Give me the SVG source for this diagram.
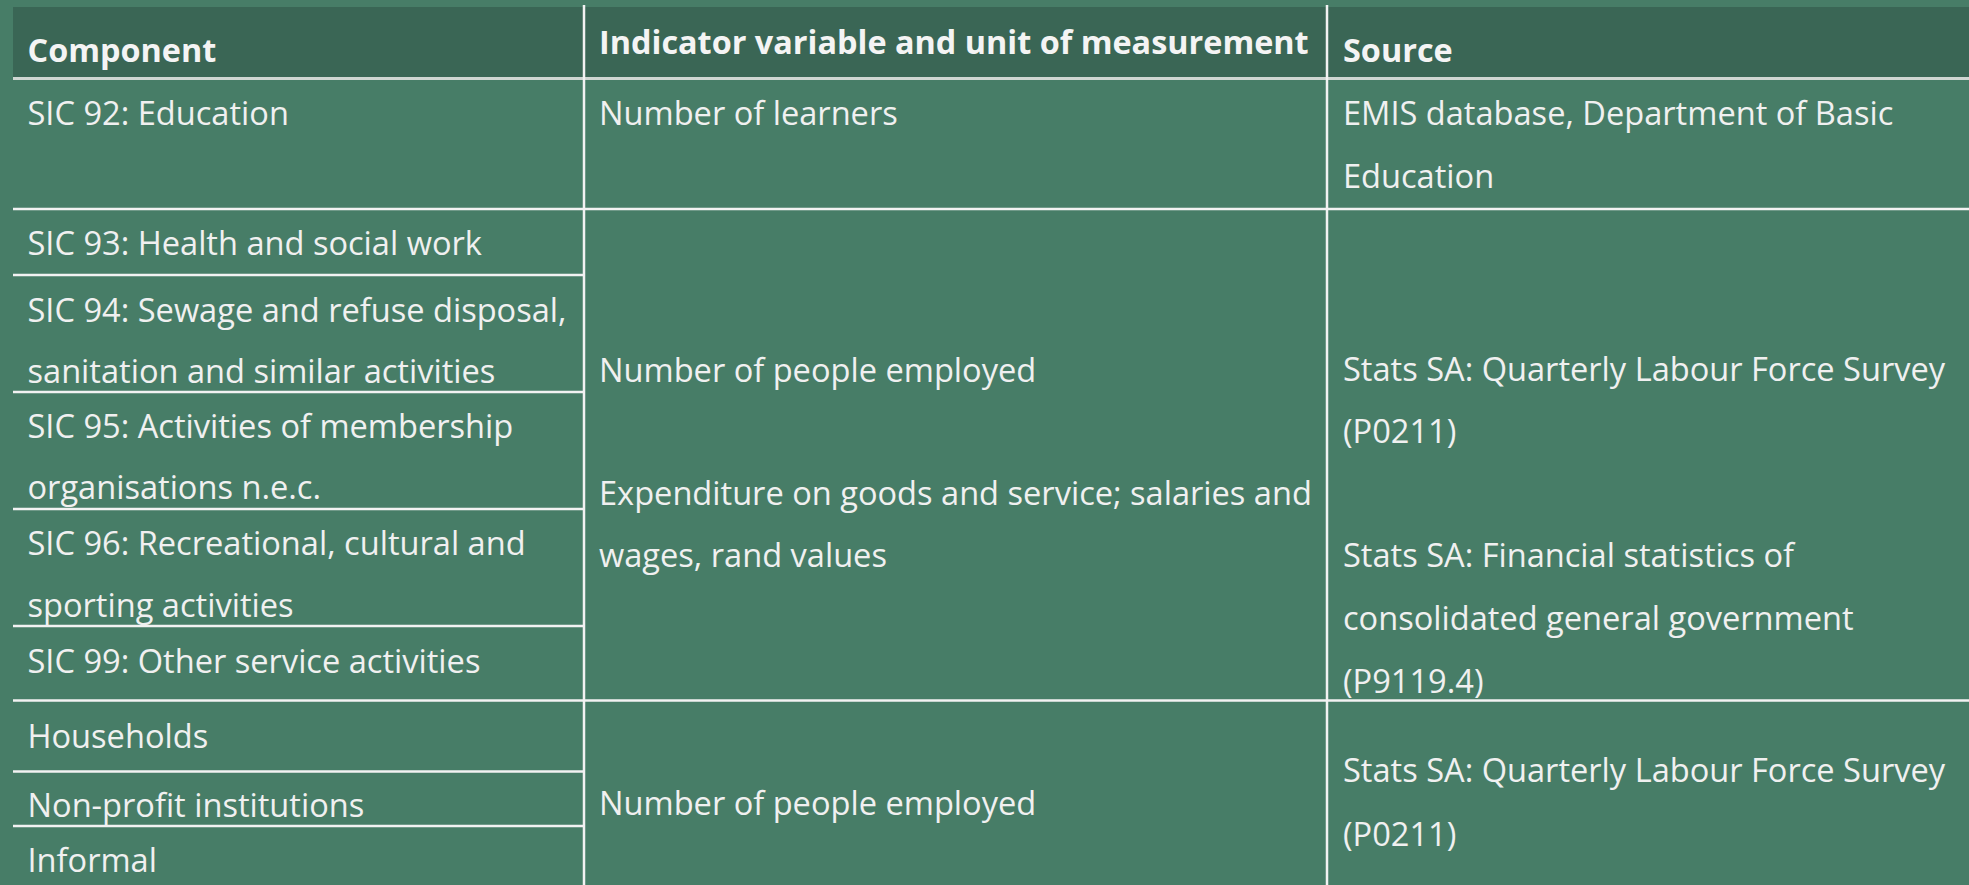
<svg xmlns="http://www.w3.org/2000/svg" width="1969" height="885" viewBox="0 0 1969 885">
<style>
  .t { font-family: "Open Sans", "Noto Sans", "Liberation Sans", sans-serif; font-size: 32.6px; fill: #f0f0f0; }
  .h { font-family: "Open Sans", "Noto Sans", "Liberation Sans", sans-serif; font-size: 32.4px; font-weight: bold; fill: #f4f4f4; }
  .ln { stroke: #f2f2f2; stroke-width: 2.5; fill: none; }
  .hl { stroke: #cfd6d2; stroke-width: 3; fill: none; }
</style>
<rect x="0" y="0" width="1969" height="885" fill="#477d67"/>
<rect id="header-band" x="13" y="7" width="1956" height="71" fill="#3a6655"/>

<g id="connectors">
  <line class="hl" x1="13" y1="78.5" x2="1969" y2="78.5"/>
  <line class="ln" x1="13" y1="209" x2="1969" y2="209"/>
  <line class="ln" x1="13" y1="275" x2="584" y2="275"/>
  <line class="ln" x1="13" y1="392" x2="584" y2="392"/>
  <line class="ln" x1="13" y1="509" x2="584" y2="509"/>
  <line class="ln" x1="13" y1="626" x2="584" y2="626"/>
  <line class="ln" x1="13" y1="700.5" x2="1969" y2="700.5"/>
  <line class="ln" x1="13" y1="771.5" x2="584" y2="771.5"/>
  <line class="ln" x1="13" y1="826" x2="584" y2="826"/>
  <line class="ln" x1="584" y1="5" x2="584" y2="885"/>
  <line class="ln" x1="1327" y1="5" x2="1327" y2="885"/>
</g>

<g id="header">
  <text class="h" x="27.5" y="61.5">Component</text>
  <text class="h" x="599" y="54.3">Indicator variable and unit of measurement</text>
  <text class="h" x="1343" y="61.5">Source</text>
</g>

<g id="row-sic92">
  <text class="t" x="27.5" y="125">SIC 92: Education</text>
  <text class="t" x="599" y="125">Number of learners</text>
  <text class="t" x="1343" y="125">EMIS database, Department of Basic</text>
  <text class="t" x="1343" y="187.7">Education</text>
</g>

<g id="component-sic93"><text class="t" x="27.5" y="255">SIC 93: Health and social work</text></g>
<g id="component-sic94">
  <text class="t" x="27.5" y="321.7">SIC 94: Sewage and refuse disposal,</text>
  <text class="t" x="27.5" y="382.7">sanitation and similar activities</text>
</g>
<g id="component-sic95">
  <text class="t" x="27.5" y="438.3">SIC 95: Activities of membership</text>
  <text class="t" x="27.5" y="499.3">organisations n.e.c.</text>
</g>
<g id="component-sic96">
  <text class="t" x="27.5" y="555">SIC 96: Recreational, cultural and</text>
  <text class="t" x="27.5" y="617.3">sporting activities</text>
</g>
<g id="component-sic99"><text class="t" x="27.5" y="673.3">SIC 99: Other service activities</text></g>

<g id="indicator-services">
  <text class="t" x="599" y="381.7">Number of people employed</text>
  <text class="t" x="599" y="505">Expenditure on goods and service; salaries and</text>
  <text class="t" x="599" y="567.3">wages, rand values</text>
</g>
<g id="source-services">
  <text class="t" x="1343" y="380.7">Stats SA: Quarterly Labour Force Survey</text>
  <text class="t" x="1343" y="443.3">(P0211)</text>
  <text class="t" x="1343" y="567.3">Stats SA: Financial statistics of</text>
  <text class="t" x="1343" y="630">consolidated general government</text>
  <text class="t" x="1343" y="692.7">(P9119.4)</text>
</g>

<g id="component-households"><text class="t" x="27.5" y="747.7">Households</text></g>
<g id="component-nonprofit"><text class="t" x="27.5" y="816.7">Non-profit institutions</text></g>
<g id="component-informal"><text class="t" x="27.5" y="871.7">Informal</text></g>

<g id="indicator-bottom"><text class="t" x="599" y="815">Number of people employed</text></g>
<g id="source-bottom">
  <text class="t" x="1343" y="782.3">Stats SA: Quarterly Labour Force Survey</text>
  <text class="t" x="1343" y="845.7">(P0211)</text>
</g>
</svg>
